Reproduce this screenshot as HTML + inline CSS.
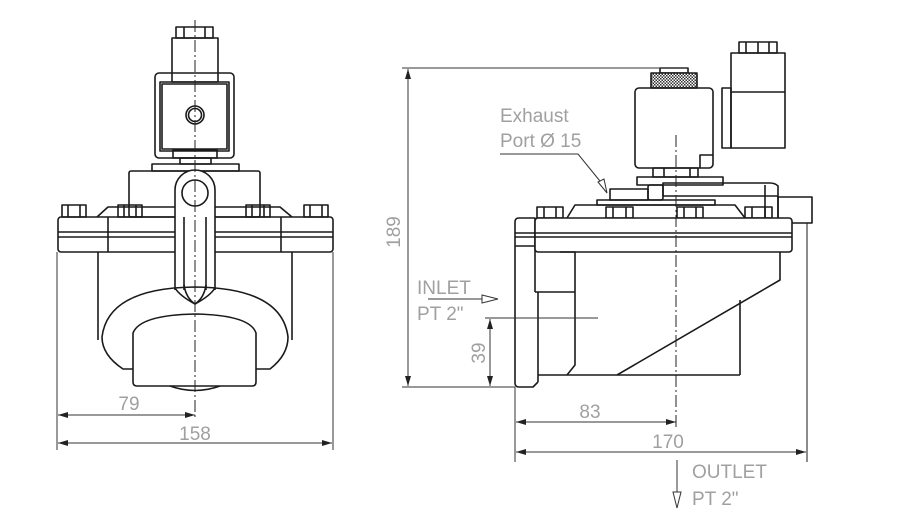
<!DOCTYPE html>
<html><head><meta charset="utf-8"><style>
html,body{margin:0;padding:0;background:#fff;}
svg{display:block}
text{font-family:"Liberation Sans",sans-serif;fill:#a0a0a0;}
</style></head><body>
<svg width="899" height="516" viewBox="0 0 899 516" xmlns="http://www.w3.org/2000/svg">
<defs>
<marker id="a" viewBox="0 0 10 6" refX="10" refY="3" markerWidth="10" markerHeight="6" orient="auto-start-reverse" markerUnits="userSpaceOnUse"><path d="M0,0L10,3L0,6z" fill="#222"/></marker>
<pattern id="k" width="3" height="3" patternUnits="userSpaceOnUse"><rect width="3" height="3" fill="#fff"/><rect width="1.5" height="1.5" fill="#333"/><rect x="1.5" y="1.5" width="1.5" height="1.5" fill="#333"/></pattern>
</defs>
<g fill="none" stroke="#1a1a1a" stroke-width="1.6" stroke-linejoin="round">
<rect x="176" y="27" width="37" height="11"/>
<line x1="184" y1="27" x2="184" y2="38"/><line x1="205" y1="27" x2="205" y2="38"/>
<rect x="172" y="38" width="46" height="44"/>
<rect x="155" y="73" width="79" height="85" rx="4"/>
<rect x="160" y="82" width="69" height="69"/>
<rect x="162" y="84" width="65" height="65"/>
<circle cx="195" cy="115" r="9"/><circle cx="195" cy="115" r="6.5"/>
<rect x="173" y="150" width="44" height="8"/>
<rect x="180" y="158" width="31" height="6"/>
<rect x="152" y="164" width="87" height="7"/>
<rect x="129" y="171" width="131" height="46" rx="2"/>
<path d="M97,217 L108,207 L280,207 L292,217"/>
<rect x="58" y="217" width="275" height="35" rx="3"/>
<line x1="58" y1="232" x2="333" y2="232"/><line x1="58" y1="237" x2="333" y2="237"/>
<line x1="108" y1="217" x2="108" y2="252"/><line x1="281" y1="217" x2="281" y2="252"/>
<g>
<rect x="62" y="205" width="24" height="12"/><line x1="68" y1="205" x2="68" y2="217"/><line x1="80" y1="205" x2="80" y2="217"/>
<rect x="118" y="205" width="24" height="12"/><line x1="124" y1="205" x2="124" y2="217"/><line x1="136" y1="205" x2="136" y2="217"/>
<rect x="246" y="205" width="24" height="12"/><line x1="252" y1="205" x2="252" y2="217"/><line x1="264" y1="205" x2="264" y2="217"/>
<rect x="304" y="205" width="24" height="12"/><line x1="310" y1="205" x2="310" y2="217"/><line x1="322" y1="205" x2="322" y2="217"/>
</g>
<line x1="98" y1="252" x2="98" y2="340"/><line x1="292" y1="252" x2="292" y2="340"/>
<path d="M175,290 L175,190 A20,20 0 0 1 215,190 L215,290" fill="#fff"/>
<circle cx="195" cy="193" r="13"/>
<line x1="184" y1="217" x2="184" y2="290"/><line x1="206" y1="217" x2="206" y2="290"/>
<path d="M184,285 Q186,298 195,304 Q204,298 206,285"/>
<path d="M175,288 Q180,296 195,304 Q210,296 215,288"/>
<path d="M133,369 L123,369 Q102,355 102,337 Q108,288 195,287 Q282,288 288,337 Q288,355 270,369 L256,369"/>
<path d="M133,382 L133,333 Q140,315 195,314 Q250,315 256,333 L256,382 Q256,386 252,386 L137,386 Q133,386 133,382z" fill="#fff"/>
<path d="M170,386 Q195,395 220,386"/>
<rect x="739" y="42" width="38" height="11"/>
<line x1="746" y1="42" x2="746" y2="53"/><line x1="758" y1="42" x2="758" y2="53"/><line x1="769" y1="42" x2="769" y2="53"/>
<rect x="731" y="53" width="54" height="95"/>
<line x1="731" y1="92" x2="785" y2="92"/>
<rect x="722" y="88" width="9" height="60"/>
<rect x="660" y="68" width="28" height="5"/>
<rect x="651" y="73" width="46" height="15" fill="url(#k)"/>
<rect x="635" y="88" width="78" height="80" rx="4"/>
<path d="M700,168 L700,155 L713,155"/>
<rect x="653" y="168" width="45" height="9"/>
<line x1="664" y1="168" x2="664" y2="177"/><line x1="690" y1="168" x2="690" y2="177"/>
<rect x="637" y="177" width="86" height="8"/>
<path d="M663,183 L663,196 L778,196 L778,186 Q775,183 770,183 Z"/>
<rect x="648" y="185" width="15" height="15" rx="2"/>
<rect x="610" y="189" width="38" height="11"/>
<path d="M765,185 L765,218 M778,196 L778,218"/>
<rect x="597" y="200" width="118" height="5"/>
<path d="M567,218 L575,205 L735,205 L745,218"/>
<rect x="778" y="197" width="34" height="26"/>
<g>
<rect x="537" y="207" width="26" height="11"/><line x1="544" y1="207" x2="544" y2="218"/><line x1="556" y1="207" x2="556" y2="218"/>
<rect x="606" y="207" width="27" height="11"/><line x1="613" y1="207" x2="613" y2="218"/><line x1="626" y1="207" x2="626" y2="218"/>
<rect x="677" y="207" width="26" height="11"/><line x1="684" y1="207" x2="684" y2="218"/><line x1="696" y1="207" x2="696" y2="218"/>
<rect x="745" y="207" width="27" height="11"/><line x1="752" y1="207" x2="752" y2="218"/><line x1="765" y1="207" x2="765" y2="218"/>
</g>
<path d="M535,252 L535,218 L519,218 Q515,218 515,222 L515,383 Q515,387 519,387 L533,387 L538,382"/>
<rect x="535" y="218" width="257" height="34" rx="3" fill="#fff"/>
<line x1="515" y1="233" x2="792" y2="233"/><line x1="515" y1="237" x2="792" y2="237"/>
<line x1="515" y1="246" x2="535" y2="246"/>
<line x1="535" y1="252" x2="535" y2="292"/>
<path d="M560,252 L575,252 L575,365 L567,375"/>
<path d="M535,292 L575,292"/>
<path d="M538,292 L538,382"/>
<line x1="538" y1="375" x2="740" y2="375"/>
<path d="M780,252 L780,280 L617,375"/>
<line x1="740" y1="300" x2="740" y2="375"/>
<line x1="807" y1="223" x2="807" y2="462" stroke-width="1"/>
</g>
<g stroke="#222" stroke-width="1" stroke-dasharray="12,3,2,3" fill="none">
<line x1="195" y1="20" x2="195" y2="420"/>
<line x1="676" y1="135" x2="676" y2="430"/>
</g>
<g stroke="#333" stroke-width="1" fill="none">
<line x1="57" y1="252" x2="57" y2="450"/><line x1="333" y1="252" x2="333" y2="450"/>
<line x1="58" y1="415" x2="195" y2="415" marker-start="url(#a)" marker-end="url(#a)"/>
<line x1="58" y1="443" x2="332" y2="443" marker-start="url(#a)" marker-end="url(#a)"/>
<line x1="402" y1="68" x2="688" y2="68"/>
<line x1="402" y1="387" x2="515" y2="387"/>
<line x1="408" y1="69" x2="408" y2="386" marker-start="url(#a)" marker-end="url(#a)"/>
<line x1="485" y1="318" x2="598" y2="318"/>
<line x1="490" y1="319" x2="490" y2="386" marker-start="url(#a)" marker-end="url(#a)"/>
<line x1="515" y1="387" x2="515" y2="462"/>
<line x1="516" y1="422" x2="676" y2="422" marker-start="url(#a)" marker-end="url(#a)"/>
<line x1="516" y1="452" x2="806" y2="452" marker-start="url(#a)" marker-end="url(#a)"/>
<line x1="428" y1="299" x2="482" y2="299"/>
<path d="M482,295 L498,299 L482,303z" fill="#fff"/>
<line x1="677" y1="460" x2="677" y2="492"/>
<path d="M673,492 L677,508 L681,492z" fill="#fff"/>
<polyline points="500,154 578,154 604,186"/>
<path d="M598,182 L607,193 L604,179z" fill="#fff"/>
</g>
<g font-size="19">
<text x="129" y="410" text-anchor="middle">79</text>
<text x="195" y="440" text-anchor="middle">158</text>
<text x="590" y="418" text-anchor="middle">83</text>
<text x="668" y="448" text-anchor="middle">170</text>
<text x="500" y="122">Exhaust</text>
<text x="500" y="147">Port Ø 15</text>
<text x="417" y="294">INLET</text>
<text x="417" y="320">PT 2"</text>
<text x="692" y="478">OUTLET</text>
<text x="692" y="505">PT 2"</text>
<text transform="translate(400,232) rotate(-90)" text-anchor="middle">189</text>
<text transform="translate(485,353) rotate(-90)" text-anchor="middle">39</text>
</g>
</svg>
</body></html>
